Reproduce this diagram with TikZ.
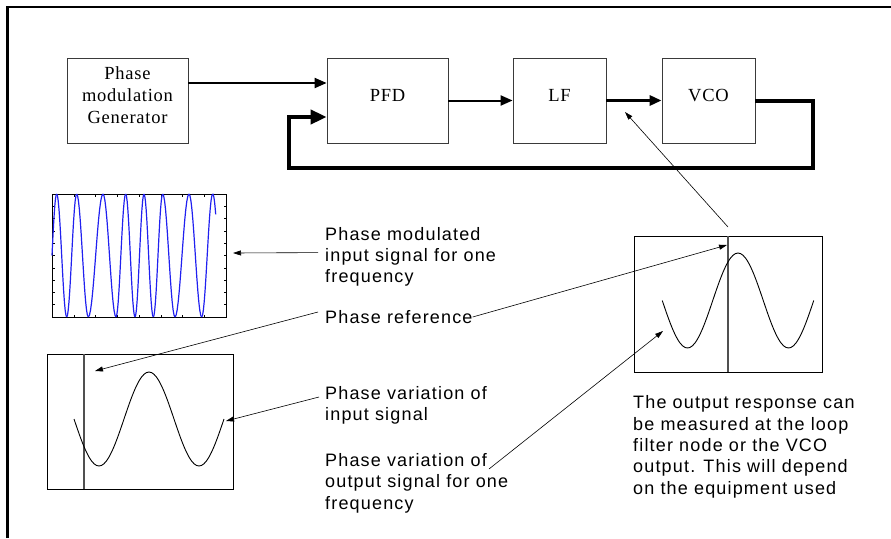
\documentclass[tikz,border=0pt]{standalone}
\usepackage{fontspec}
\usepackage{tikz}
\usetikzlibrary{arrows.meta,calc}
\newfontfamily\blockfont{Liberation Serif}[LetterSpace=4]
\newfontfamily\notefont{Liberation Sans}[LetterSpace=6.5]
\definecolor{Ink}{HTML}{000000}
\definecolor{Frame}{HTML}{3A3A3A}
\definecolor{Trace}{HTML}{2020F0}
\definecolor{Marker}{HTML}{505050}
\newcommand{\raised}[2][5pt]{\raisebox{#1}[\height][\depth]{#2}}
\tikzset{
  block/.style={draw=Frame,line width=0.8pt,minimum height=85pt,inner sep=0pt,align=center,font=\blockfont\fontsize{18.5}{22}\selectfont,text=Ink},
  note/.style={align=left,inner sep=2pt,font=\notefont\fontsize{18}{21.3}\selectfont,text=Ink},
  screen/.style={draw=Ink,line width=0.9pt},
  tick/.style={draw=Ink,line width=0.5pt},
  wave/.style={Trace,line width=1.2pt},
  trace/.style={Ink,line width=0.9pt},
  marker/.style={Marker,line width=1.3pt},
  wire/.style={-{Triangle[length=12pt,width=10pt]},line width=2pt,draw=Ink},
  bus/.style={-{Triangle[length=16pt,width=14pt]},line width=4pt,draw=Ink},
  pointer/.style={-{Triangle[length=8pt,width=5pt]},line width=0.6pt,draw=Ink}
}

\begin{document}
\begin{tikzpicture}[x=1pt,y=-1pt]
\useasboundingbox (0,0) rectangle (891,538);
\draw[line width=2.5pt] (7.5,538) -- (7.5,7) -- (891,7);

% loop blocks
\node[block,minimum width=121pt] (gen) at (127.5,100.5) {\raised[3pt]{\begin{tabular}{@{}c@{}}Phase\\modulation\\Generator\end{tabular}}};
\node[block,minimum width=121pt] (pfd) at (387.5,100.5) {\raised{PFD}};
\node[block,minimum width=93pt] (lf) at (559.5,100.5) {\raised{LF}};
\node[block,minimum width=93pt] (vco) at (708.5,100.5) {\raised{VCO}};
\coordinate (fbR) at (813,168);
\coordinate (fbL) at (289,168);

\draw[wire] ([yshift=17.5pt]gen.east) -- ([yshift=17.5pt]pfd.west);
\draw[wire] (pfd.east) -- (lf.west);
\draw[wire,line width=3pt] (lf.east) -- (vco.west);
\draw[bus] (vco.east) -| (fbR) -- (fbL) |- ([yshift=-16.5pt]pfd.west);

% input signal plot
\draw[screen] (52,194) rectangle (226,317);
\foreach \k in {1,...,9}{
  \draw[tick] (226,194+12.3*\k) -- ++(-2.5,0);
  \draw[tick] (52,194+12.3*\k) -- ++(2.5,0);
}
\foreach \k in {1,...,7}{
  \draw[tick] (52+21.75*\k,317) -- ++(0,-2.5);
  \draw[tick] (52+21.75*\k,194) -- ++(0,2.5);
}
\foreach \xa/\pa/\xb/\pb in {52/-90/56.7/0,56.7/0/66.7/180,66.7/180/76.7/360,76.7/360/88.3/540,88.3/540/103/720,103/720/116/900,116/900/125.7/1080,125.7/1080/135/1260,135/1260/144/1440,144/1440/153.3/1620,153.3/1620/162.7/1800,162.7/1800/175/1980,175/1980/189/2160,189/2160/201.7/2340,201.7/2340/212.7/2520,212.7/2520/215.7/2568}
  \draw[wave] plot[domain=\pa:\pb,samples=14] ({\xa+(\xb-\xa)*(\x-\pa)/(\pb-\pa)},{255.5-61.5*cos(\x)});

% phase plots
\draw[screen] (47,354) rectangle (233,489);
\draw[marker] (84,354) -- (84,489);
\draw[trace] plot[domain=-270:270,samples=61,smooth] ({149+\x/3.6},{419-47*cos(\x)});
\draw[screen] (634,236) rectangle (822,372);
\draw[marker] (728,236) -- (728,372);
\draw[trace] plot[domain=-270:270,samples=61,smooth] ({738+\x/3.564},{300.5-47.5*cos(\x)});

\coordinate (inTip) at (233,253);
\coordinate (refTipL) at (95,371);
\coordinate (refTipR) at (727,245);
\coordinate (varInTip) at (226,421);
\coordinate (varOutTip) at (663,331);
\coordinate (rTop) at (728,227);
\coordinate (tap) at (625,112);

% labels (base = last line)
\node[note,anchor=base west] (lblIn) at (323,282.6) {Phase modulated\\input signal for one\\frequency};
\node[note,anchor=base west] (lblRef) at (323,323) {Phase reference};
\node[note,anchor=base west] (lblVarIn) at (323,420.5) {Phase variation of\\input signal};
\node[note,anchor=base west] (lblVarOut) at (323,509) {Phase variation of\\output signal for one\\frequency};
\node[note,anchor=base west] (lblOut) at (631,494) {The output response can\\be measured at the loop\\filter node or the VCO\\output. This will depend\\on the equipment used};

\draw[pointer] ([xshift=-5pt,yshift=30pt]lblIn.base west) -- (inTip);
\draw[pointer] ([xshift=-5pt,yshift=11pt]lblRef.base west) -- (refTipL);
\draw[pointer] ([xshift=-2pt,yshift=6pt]lblRef.base east) -- (refTipR);
\draw[pointer] ([xshift=-4pt,yshift=23.5pt]lblVarIn.base west) -- (varInTip);
\draw[pointer] ([xshift=166pt,yshift=40pt]lblVarOut.base west) -- (varOutTip);
\draw[pointer] (rTop) -- (tap);
\end{tikzpicture}
\end{document}
